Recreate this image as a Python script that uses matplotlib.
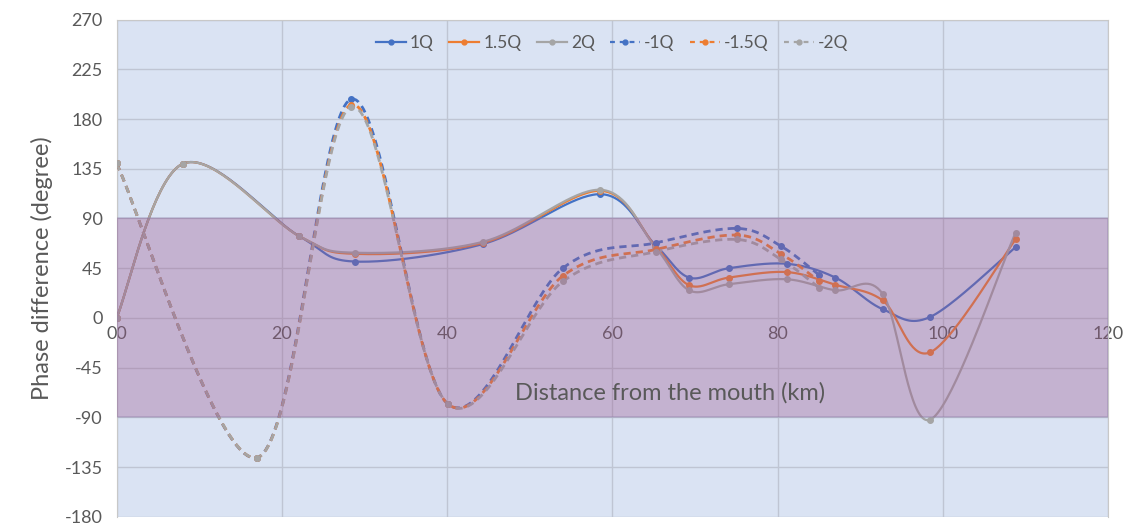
import numpy as np
import matplotlib
matplotlib.use("Agg")
import matplotlib.pyplot as plt
from matplotlib.lines import Line2D

plt.rcParams['font.family'] = ['Lato', 'DejaVu Sans']
plt.rcParams['axes.unicode_minus'] = False

# Solid series (1Q, 1.5Q, 2Q): distance (km) and phase difference (deg)
x_pos = [0, 8, 22.1, 28.9, 44.4, 58.5, 65.2, 69.3, 74.1, 81.1, 87, 92.7, 98.5, 108.8]
q1 = [0, 139.5, 74, 51, 67, 112, 66, 36.5, 45, 49, 36.5, 8, 1, 64]
q15 = [0, 139.5, 74, 58, 68, 115, 65, 29.6, 36.5, 41.5, 30, 16, -31, 71]
q2 = [0, 139.5, 74, 59, 69, 116, 64, 25, 30.5, 35, 25, 22, -92, 77]

# Dashed series (-1Q, -1.5Q, -2Q)
x_neg = [0, 17, 28.4, 40.1, 54, 65.3, 75.1, 80.4, 85]
nq1 = [139.8, -126.5, 198, -78, 45, 68, 81, 65, 39]
nq15 = [139.8, -126.5, 193, -78, 38, 62, 75, 58, 33.5]
nq2 = [139.8, -126.5, 191, -78, 33, 60, 71, 53, 27.5]

x_ticks = [0, 20, 40, 60, 80, 100, 120]
x_ticklabels = ["00", "20", "40", "60", "80", "100", "120"]
y_ticks = list(range(-180, 271, 45))

blue = "#4472C4"
orange = "#ED7D31"
gray = "#A5A5A5"


def smooth(xs, ys, n=40):
    # Excel style smoothed line (Catmull-Rom through the points)
    p = np.column_stack([xs, ys]).astype(float)
    p = np.vstack([p[0], p, p[-1]])
    out = []
    for i in range(1, len(p) - 2):
        b0 = p[i]
        b1 = p[i] + (p[i + 1] - p[i - 1]) / 6
        b2 = p[i + 1] - (p[i + 2] - p[i]) / 6
        b3 = p[i + 1]
        t = np.linspace(0, 1, n)[:, None]
        seg = ((1 - t) ** 3) * b0 + 3 * ((1 - t) ** 2) * t * b1 + 3 * (1 - t) * t ** 2 * b2 + t ** 3 * b3
        out.append(seg if i == 1 else seg[1:])
    out = np.vstack(out)
    return out[:, 0], out[:, 1]


fig, ax = plt.subplots(figsize=(11.4, 5.29), dpi=100)
fig.subplots_adjust(left=0.1023, right=0.972, top=0.963, bottom=0.023)
ax.set_facecolor("#DAE3F3")

series = [
    (x_pos, q1, blue, "-", "1Q"),
    (x_pos, q15, orange, "-", "1.5Q"),
    (x_pos, q2, gray, "-", "2Q"),
    (x_neg, nq1, blue, "--", "-1Q"),
    (x_neg, nq15, orange, "--", "-1.5Q"),
    (x_neg, nq2, gray, "--", "-2Q"),
]

handles = []
for xs, ys, c, ls, name in series:
    sx, sy = smooth(xs, ys)
    if ls == "-":
        ax.plot(sx, sy, color=c, lw=1.6, zorder=3)
    else:
        ax.plot(sx, sy, color=c, lw=2.0, dashes=(2.6, 1.8), zorder=3)
    ax.plot(xs, ys, 'o', color=c, ms=4, zorder=4)
    if ls == "-":
        h = Line2D([0], [0], color=c, lw=1.6, marker='o', ms=3.5, label=name)
    else:
        h = Line2D([0], [0], color=c, lw=1.6, dashes=(2.2, 2.2), marker='o', ms=3.5, label=name)
    handles.append(h)

# purple band between -90 and 90
ax.axhspan(-90, 90, facecolor="#9B5991", alpha=0.35, edgecolor="#8a7aa8", lw=1.2, zorder=5)

ax.set_xlim(0, 120)
ax.set_ylim(-180, 270)
ax.set_yticks(y_ticks)
ax.set_xticks(x_ticks)
ax.set_xticklabels(x_ticklabels)
ax.grid(True, color="#BFC5D3", lw=1, zorder=1)
ax.set_axisbelow(True)

ax.spines['bottom'].set_position(('data', 0))
ax.spines['bottom'].set_visible(False)
for s in ['top', 'right', 'left']:
    ax.spines[s].set_color("#C8C8C8")
ax.tick_params(axis='both', length=0, labelsize=13, colors="#595959")
ax.tick_params(axis='x', pad=6)
ax.tick_params(axis='y', pad=10)

ax.text(67, -68, "Distance from the mouth (km)", fontsize=17, color="#595959",
        ha='center', va='center', zorder=6)
ax.set_ylabel("Phase difference (degree)", fontsize=17, color="#595959", labelpad=8)

ax.legend(handles=handles, loc='upper center', bbox_to_anchor=(0.5, 1.0), ncol=6,
          frameon=False, fontsize=12.5, labelcolor="#595959", handlelength=1.7,
          columnspacing=0.9, handletextpad=0.25)

plt.savefig("out.png", dpi=100)
